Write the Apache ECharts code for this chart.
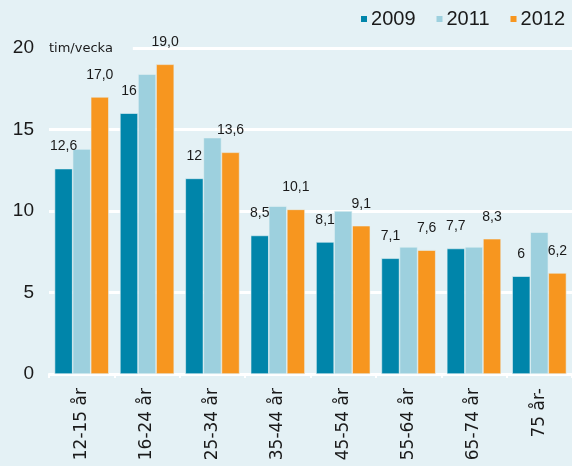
<!DOCTYPE html>
<html>
<head>
    <meta charset="UTF-8">
    <title>tim/vecka</title>
    <script src="https://cdn.jsdelivr.net/npm/echarts@6/dist/echarts.min.js"></script>
    <style>
        html, body { margin: 0; padding: 0; background: #e4f1f5; }
        #main { width: 572px; height: 466px; }
    </style>
</head>
<body>
    <div id="main"></div>
    <script>
        var categories = ['12-15 år', '16-24 år', '25-34 år', '35-44 år', '45-54 år', '55-64 år', '65-74 år', '75 år-'];
        var y2009 = [12.6, 16, 12, 8.5, 8.1, 7.1, 7.7, 6];
        var y2011 = [13.8, 18.4, 14.5, 10.3, 10.0, 7.8, 7.8, 8.7];
        var y2012 = [17.0, 19.0, 13.6, 10.1, 9.1, 7.6, 8.3, 6.2];
        var yTicks = [0, 5, 10, 15, 20];

        var font = 'Liberation Sans, Arial, sans-serif';
        var wide = 'DejaVu Sans, sans-serif';
        var chart = echarts.init(document.getElementById('main'), null, {renderer: 'canvas'});

        function lbl(show, fmt) {
            return {
                show: show,
                position: 'top',
                distance: 15,
                color: '#1a1a1a',
                fontSize: 14,
                fontFamily: font,
                formatter: fmt
            };
        }

        chart.setOption({
            backgroundColor: '#e4f1f5',
            animation: false,
            legend: {
                right: 2,
                top: 4,
                itemWidth: 8,
                itemHeight: 8,
                itemGap: 19,
                icon: 'rect',
                textStyle: {fontSize: 20, color: '#1a1a1a', fontFamily: font, padding: [0, 0, 0, -2]},
                data: ['2009', '2011', '2012']
            },
            grid: {left: 49, right: 0, top: 48, bottom: 92},
            xAxis: {
                type: 'category',
                data: categories,
                axisLine: {lineStyle: {color: '#ffffff', width: 2}},
                axisTick: {show: true, length: 4, lineStyle: {color: '#ffffff', width: 2}},
                axisLabel: {rotate: 90, fontSize: 17, color: '#1a1a1a', fontFamily: wide, margin: 14}
            },
            yAxis: {
                type: 'value',
                min: yTicks[0],
                max: yTicks[yTicks.length - 1],
                interval: 5,
                axisLine: {show: false},
                axisTick: {show: false},
                splitLine: {lineStyle: {color: '#ffffff', width: 3}},
                axisLabel: {fontSize: 19, color: '#1a1a1a', fontFamily: font, margin: 15}
            },
            graphic: [{
                type: 'text',
                left: 49,
                top: 40,
                z: 10,
                style: {
                    text: 'tim/vecka',
                    fontSize: 13,
                    fontFamily: wide,
                    fill: '#1a1a1a',
                    backgroundColor: '#e4f1f5',
                    padding: [2, 20, 2, 0]
                }
            }],
            series: [
                {
                    name: '2009', type: 'bar', data: y2009, barGap: 0, barCategoryGap: '17%',
                    itemStyle: {color: '#0085aa', borderColor: '#e4f1f5', borderWidth: 0.6},
                    label: lbl(true, function (p) { return String(p.value).replace('.', ','); })
                },
                {
                    name: '2011', type: 'bar', data: y2011, barGap: 0, barCategoryGap: '17%',
                    itemStyle: {color: '#9dd0de', borderColor: '#e4f1f5', borderWidth: 0.6},
                    label: lbl(false)
                },
                {
                    name: '2012', type: 'bar', data: y2012, barGap: 0, barCategoryGap: '17%',
                    itemStyle: {color: '#f7961f', borderColor: '#e4f1f5', borderWidth: 0.6},
                    label: lbl(true, function (p) { return p.value.toFixed(1).replace('.', ','); })
                }
            ]
        });
    </script>
</body>
</html>
